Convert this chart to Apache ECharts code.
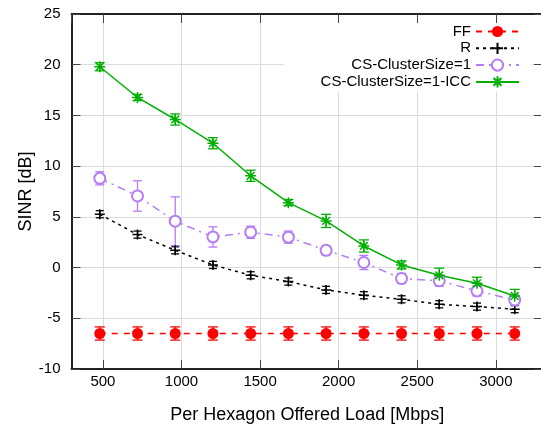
<!DOCTYPE html>
<html><head><meta charset="utf-8">
<script src="https://cdn.jsdelivr.net/npm/echarts@6/dist/echarts.min.js"></script>
<style>html,body{margin:0;padding:0;background:#fff}#c{width:541px;height:428px}</style>
</head><body><div id="c"></div>
<script>
const loads = [480,720,960,1200,1440,1680,1920,2160,2400,2640,2880,3120];
const ffVals  = [-6.5,-6.5,-6.5,-6.5,-6.5,-6.5,-6.5,-6.5,-6.5,-6.5,-6.5,-6.5];
const ffErr   = [0.65,0.65,0.65,0.65,0.65,0.65,0.65,0.65,0.65,0.65,0.65,0.65];
const rVals   = [5.26,3.25,1.7,0.26,-0.76,-1.38,-2.2,-2.73,-3.13,-3.62,-3.85,-4.1];
const rErr    = [0.35,0.35,0.35,0.35,0.35,0.35,0.35,0.35,0.35,0.35,0.35,0.35];
const csVals  = [8.8,7.06,4.57,3.02,3.48,3.0,1.7,0.5,-1.08,-1.3,-2.3,-3.2];
const csErr   = [0.65,1.5,2.4,1.0,0.6,0.6,0.45,0.7,0.5,0.55,0.5,0.5];
const iccVals = [19.8,16.77,14.6,12.26,9.05,6.4,4.6,2.13,0.26,-0.76,-1.55,-2.8];
const iccErr  = [0.4,0.3,0.55,0.55,0.55,0.3,0.65,0.6,0.4,0.7,0.6,0.65];
const names = ['FF','R','CS-ClusterSize=1','CS-ClusterSize=1-ICC'];

const FONT = 'Liberation Sans, Arial, sans-serif';
const colors = ['#ff0000','#000000','#b57cf7','#00b000'];
const PLUS = 'path://M0,5L10,5M5,0L5,10';
const STAR = 'path://M0,5L10,5M5,0L5,10M1.5,1.5L8.5,8.5M1.5,8.5L8.5,1.5';

function pairs(v){ return loads.map((x,i)=>[x,v[i]]); }
function triples(v,e){ return loads.map((x,i)=>[x,v[i],e[i]]); }

function errSeries(v,e,color,capW){
  return {
    type:'custom', silent:true, z:2,
    data: triples(v,e),
    encode:{x:0,y:1},
    renderItem:function(params, api){
      const x=api.value(0), y=api.value(1), er=api.value(2);
      const hi=api.coord([x,y+er]), lo=api.coord([x,y-er]);
      const st={stroke:color,lineWidth:1.3};
      return {type:'group',children:[
        {type:'line',shape:{x1:hi[0],y1:hi[1],x2:lo[0],y2:lo[1]},style:st},
        {type:'line',shape:{x1:hi[0]-capW,y1:hi[1],x2:hi[0]+capW,y2:hi[1]},style:st},
        {type:'line',shape:{x1:lo[0]-capW,y1:lo[1],x2:lo[0]+capW,y2:lo[1]},style:st}
      ]};
    }
  };
}

const chart = echarts.init(document.getElementById('c'), null, {renderer:'canvas'});
const axisLineStyle = {color:'#222', width:2};
chart.setOption({
  animation:false,
  backgroundColor:'#fff',
  textStyle:{fontFamily:FONT},
  grid:{left:71.5, top:14, width:471.5, height:355, containLabel:false, outerBoundsMode:'none'},
  legend:{
    orient:'vertical', align:'right', right:10, top:23,
    padding:[1,11,2,37], itemWidth:43, itemHeight:14, itemGap:1.8,
    backgroundColor:'#fff',
    data:names,
    textStyle:{fontFamily:FONT, fontSize:15, color:'#000'}
  },
  xAxis:[{
    type:'value', min:300, max:3300, splitNumber:6, position:'bottom',
    name:'Per Hexagon Offered Load [Mbps]', nameLocation:'middle', nameGap:37.5, nameMoveOverlap:false,
    nameTextStyle:{fontFamily:FONT, fontSize:18, color:'#000'},
    axisLine:{show:true, onZero:false, lineStyle:axisLineStyle},
    axisTick:{show:true, inside:true, length:9, lineStyle:{color:'#444', width:1}},
    axisLabel:{fontFamily:FONT, fontSize:15, color:'#000', margin:5, showMinLabel:false, showMaxLabel:false,
      formatter:function(v){return String(v);}},
    splitLine:{show:true, lineStyle:{color:'#dcdcdc', width:1}}
  },{
    type:'value', min:300, max:3300, splitNumber:6, position:'top',
    axisLine:{show:true, onZero:false, lineStyle:axisLineStyle},
    axisTick:{show:true, inside:true, length:9, lineStyle:{color:'#444', width:1}},
    axisLabel:{show:false}, splitLine:{show:false}
  }],
  yAxis:[{
    type:'value', min:-10, max:25, interval:5, position:'left',
    name:'SINR [dB]', nameLocation:'middle', nameGap:36, nameMoveOverlap:false,
    nameTextStyle:{fontFamily:FONT, fontSize:18, color:'#000'},
    axisLine:{show:true, onZero:false, lineStyle:axisLineStyle},
    axisTick:{show:true, inside:true, length:9, lineStyle:{color:'#444', width:1}},
    axisLabel:{fontFamily:FONT, fontSize:15, color:'#000', margin:11},
    splitLine:{show:true, lineStyle:{color:'#dcdcdc', width:1}}
  },{
    type:'value', min:-10, max:25, interval:5, position:'right',
    axisLine:{show:true, onZero:false, lineStyle:axisLineStyle},
    axisTick:{show:true, inside:true, length:9, lineStyle:{color:'#444', width:1}},
    axisLabel:{show:false}, splitLine:{show:false}
  }],
  series:[
    errSeries(ffVals, ffErr, colors[0], 5),
    {name:names[0], type:'line', z:3, data:pairs(ffVals),
     lineStyle:{color:colors[0], width:1.5, type:[6,6]},
     symbol:'circle', symbolSize:11,
     itemStyle:{color:colors[0], borderColor:colors[0], borderWidth:0}},
    errSeries(rVals, rErr, colors[1], 4),
    {name:names[1], type:'line', z:3, data:pairs(rVals),
     lineStyle:{color:colors[1], width:1.5, type:[3,4]},
     symbol:PLUS, symbolSize:10,
     itemStyle:{color:'rgba(0,0,0,0)', borderColor:colors[1], borderWidth:1.5}},
    errSeries(csVals, csErr, colors[2], 4.5),
    {name:names[2], type:'line', z:3, data:pairs(csVals),
     lineStyle:{color:colors[2], width:1.5, type:[8,5,2,5]},
     symbol:'emptyCircle', symbolSize:11,
     itemStyle:{color:colors[2], borderColor:colors[2], borderWidth:1.5}},
    errSeries(iccVals, iccErr, colors[3], 5),
    {name:names[3], type:'line', z:3, data:pairs(iccVals),
     lineStyle:{color:colors[3], width:1.5},
     symbol:STAR, symbolSize:11,
     itemStyle:{color:'rgba(0,0,0,0)', borderColor:colors[3], borderWidth:1.5}}
  ]
});
</script></body></html>
